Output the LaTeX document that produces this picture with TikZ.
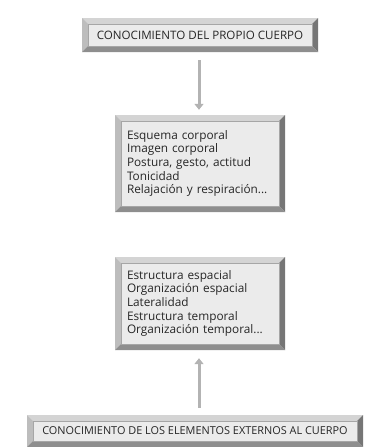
\documentclass[tikz,border=0pt]{standalone}
\usepackage{fontspec}
\setmainfont{Open Sans}
\usetikzlibrary{arrows.meta}
\definecolor{facegray}{HTML}{EBEBEB}
\definecolor{topgray}{HTML}{D4D4D4}
\definecolor{leftgray}{HTML}{BDBDBD}
\definecolor{rightgray}{HTML}{767676}
\definecolor{bottomgray}{HTML}{8E8E8E}
\definecolor{arrowgray}{HTML}{B3B3B3}
\tikzset{
  bevel/.style={fill=facegray,inner ysep=0pt,text=black!85,font=\fontsize{11.6}{13.7}\selectfont,
    path picture={
      \fill[topgray] (path picture bounding box.north west)--(path picture bounding box.north east)
        --([shift={(-6pt,-6pt)}]path picture bounding box.north east)--([shift={(6pt,-6pt)}]path picture bounding box.north west)--cycle;
      \fill[leftgray] (path picture bounding box.north west)--(path picture bounding box.south west)
        --([shift={(6pt,6pt)}]path picture bounding box.south west)--([shift={(6pt,-6pt)}]path picture bounding box.north west)--cycle;
      \fill[rightgray] (path picture bounding box.north east)--(path picture bounding box.south east)
        --([shift={(-6pt,6pt)}]path picture bounding box.south east)--([shift={(-6pt,-6pt)}]path picture bounding box.north east)--cycle;
      \fill[bottomgray] (path picture bounding box.south west)--(path picture bounding box.south east)
        --([shift={(-6pt,6pt)}]path picture bounding box.south east)--([shift={(6pt,6pt)}]path picture bounding box.south west)--cycle;
      \draw[gray!70,line width=0.4pt] ([shift={(6pt,6pt)}]path picture bounding box.south west) rectangle ([shift={(-6pt,-6pt)}]path picture bounding box.north east);
    }},
  listbox/.style={bevel,align=left,text width=146pt,inner xsep=12pt,font=\fontsize{11.8}{13.6}\selectfont},
  flow/.style={arrowgray,line width=3pt,-{Triangle[width=9pt,length=6pt]}}
}
\begin{document}
\begin{tikzpicture}[x=1pt,y=-1pt]
\useasboundingbox (0,0) rectangle (366,447);
\node[bevel,minimum width=236pt,minimum height=34pt] (propio) at (200,35) {CONOCIMIENTO DEL PROPIO CUERPO};
\node[listbox,minimum height=97pt] (cuerpo) at (200,163.5) {Esquema corporal\\Imagen corporal\\Postura, gesto, actitud\\Tonicidad\\Relajación y respiración...};
\node[listbox,minimum height=93pt] (espacio) at (200,303.5) {Estructura espacial\\Organización espacial\\Lateralidad\\Estructura temporal\\Organización temporal...};
\node[bevel,minimum width=336pt,minimum height=32pt,font=\fontsize{10.9}{13}\selectfont] (externos) at (195,431) {CONOCIMIENTO DE LOS ELEMENTOS EXTERNOS AL CUERPO};
\draw[flow,shorten <=8pt,shorten >=5pt] (propio.south-|199,0) -- (cuerpo.north-|199,0);
\draw[flow,shorten <=7pt,shorten >=8pt] (externos.north-|199,0) -- (espacio.south-|199,0);
\end{tikzpicture}
\end{document}
